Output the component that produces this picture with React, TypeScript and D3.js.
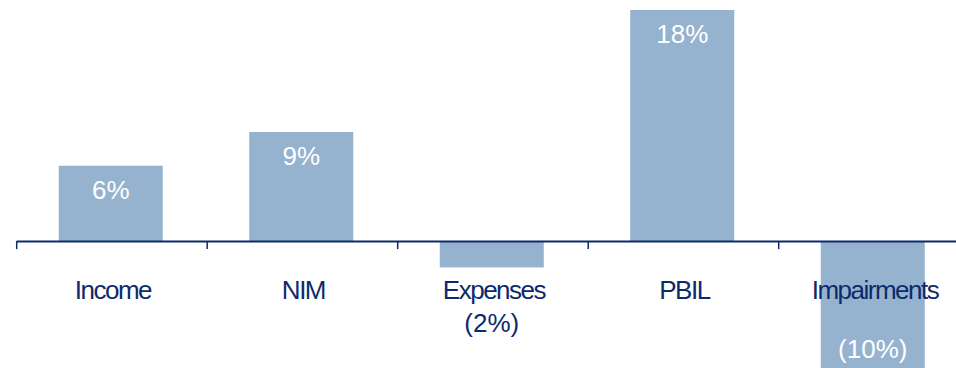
import React from "react";
import * as d3 from "d3";

const categories = ["Income", "NIM", "Expenses", "PBIL", "Impairments"];
const values = [5.87, 8.5, -2.05, 18.0, -10.0];
const valueLabels = ["6%", "9%", "(2%)", "18%", "(10%)"];

const W = 956;
const H = 368;
const BAR = "#95b2cf";
const NAVY = "#0d2b6b";

export default function App() {
  const x = d3
    .scaleBand<string>()
    .domain(categories)
    .range([16.7, 16.7 + 190.5 * categories.length])
    .paddingInner(0.454)
    .paddingOuter(0.227);
  const y = d3.scaleLinear().domain([-10, 18]).range([369.5, 10]);
  const y0 = y(0);
  const step = x.step();
  const edges = d3.range(categories.length + 1).map((i) => 16.7 + i * step);
  const font = "'Liberation Sans', Arial, sans-serif";
  const shift = -1.2;

  return (
    <svg
      width={W}
      height={H}
      style={{ position: "absolute", left: 0, top: 0, background: "#fff" }}
    >
      {categories.map((c, i) => {
        const v = values[i];
        const bx = x(c)! + shift;
        const top = Math.min(y(v), y0);
        const h = Math.abs(y(v) - y0);
        return <rect key={c} x={bx} y={top} width={x.bandwidth()} height={h} fill={BAR} />;
      })}
      <line x1={16.7} x2={W} y1={y0 + 0.5} y2={y0 + 0.5} stroke={NAVY} strokeWidth={2} />
      {edges.map((e, i) => (
        <line key={i} x1={e} x2={e} y1={y0} y2={y0 + 8} stroke={NAVY} strokeWidth={1.5} />
      ))}
      {categories.map((c, i) => {
        const cx = x(c)! + x.bandwidth() / 2;
        return (
          <text
            key={"c" + c}
            x={cx + 1}
            y={299}
            textAnchor="middle"
            fontFamily={font}
            fontSize={26}
            letterSpacing={-1.5}
            fill={NAVY}
          >
            {c}
          </text>
        );
      })}
      {categories.map((c, i) => {
        const v = values[i];
        const cx = x(c)! + x.bandwidth() / 2 + shift;
        let ty: number;
        let fill = "#ffffff";
        if (v >= 0) {
          ty = y(v) + 33;
        } else if (Math.abs(y(v) - y0) < 60) {
          ty = 332;
          fill = NAVY;
        } else {
          ty = y(v) - 12;
        }
        return (
          <text
            key={"v" + c}
            x={cx}
            y={ty}
            textAnchor="middle"
            fontFamily={font}
            fontSize={26}
            fill={fill}
          >
            {valueLabels[i]}
          </text>
        );
      })}
    </svg>
  );
}
